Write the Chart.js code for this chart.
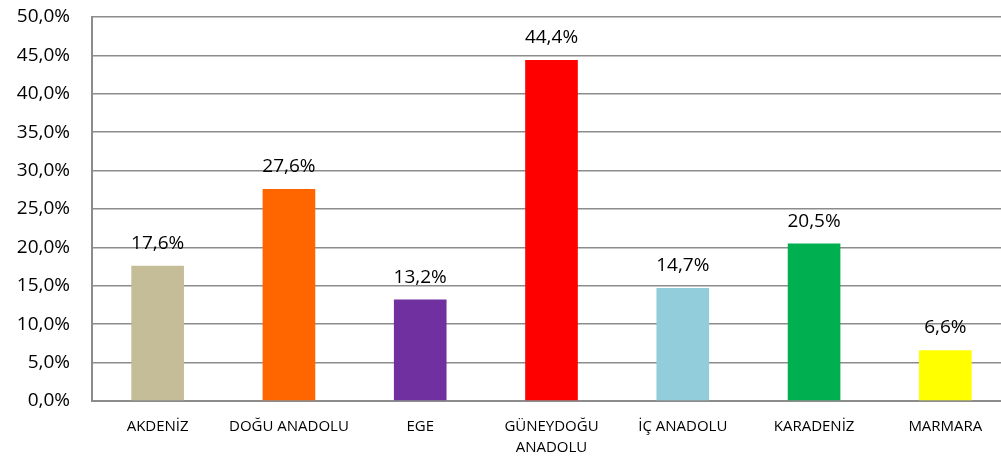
<!DOCTYPE html>
<html>
<head>
<meta charset="utf-8">
<script src="https://cdn.jsdelivr.net/npm/chart.js@4/dist/chart.umd.min.js"></script>
<style>
  html, body { margin: 0; padding: 0; background: #fff; overflow: hidden; width: 1001px; height: 459px; }
  canvas { display: block; }
</style>
</head>
<body>
<canvas id="myChart" width="1011" height="459"></canvas>
<script>
const regions = ['AKDENİZ', 'DOĞU ANADOLU', 'EGE', ['GÜNEYDOĞU', 'ANADOLU'], 'İÇ ANADOLU', 'KARADENİZ', 'MARMARA'];
const shares = [17.6, 27.6, 13.2, 44.4, 14.7, 20.5, 6.6];
const barColors = ['#C4BD97', '#FF6600', '#7030A0', '#FF0000', '#92CDDC', '#00B050', '#FFFF00'];
const yTicks = [0, 5, 10, 15, 20, 25, 30, 35, 40, 45, 50];

const fmt = v => v.toFixed(1).replace('.', ',') + '%';
const font = "'Open Sans', 'Liberation Sans', sans-serif";

// etiketler cubuklarin ustune
const valueLabels = {
    id: 'valueLabels',
    afterDatasetsDraw(chart) {
        const c = chart.ctx;
        const meta = chart.getDatasetMeta(0);
        c.save();
        c.font = '19px ' + font;
        c.fillStyle = '#000';
        c.textAlign = 'center';
        c.textBaseline = 'alphabetic';
        meta.data.forEach((bar, i) => {
            c.fillText(fmt(shares[i]), bar.x, bar.y - 17);
        });
        c.restore();
    }
};

const ctx = document.getElementById('myChart');
new Chart(ctx, {
    type: 'bar',
    data: {
        labels: regions,
        datasets: [{
            data: shares,
            backgroundColor: barColors,
            borderWidth: 0,
            categoryPercentage: 1,
            barPercentage: 0.401
        }]
    },
    options: {
        responsive: false,
        animation: false,
        layout: { padding: { top: 17, right: 0, left: 1, bottom: 0 } },
        plugins: {
            legend: { display: false },
            tooltip: { enabled: false }
        },
        scales: {
            x: {
                grid: { display: false, drawTicks: false },
                border: { display: true, color: '#8c8c8c', width: 2 },
                ticks: {
                    color: '#000',
                    font: { family: font, size: 15, lineHeight: 1.35 },
                    maxRotation: 0,
                    autoSkip: false,
                    padding: 16
                },
                afterFit(scale) {
                    scale.height = 58;
                    scale.paddingLeft = 0;
                    scale.paddingRight = 0;
                }
            },
            y: {
                min: 0,
                max: 50,
                afterBuildTicks(scale) { scale.ticks = yTicks.map(v => ({ value: v })); },
                grid: { color: '#8c8c8c', lineWidth: 1.5, drawTicks: false },
                border: { display: true, color: '#8c8c8c', width: 2 },
                ticks: {
                    color: '#000',
                    font: { family: font, size: 19 },
                    padding: 22,
                    callback: v => fmt(v)
                },
                afterFit(scale) {
                    scale.width = 91;
                    scale.paddingTop = 0;
                    scale.paddingBottom = 0;
                }
            }
        }
    },
    plugins: [valueLabels]
});
</script>
</body>
</html>
